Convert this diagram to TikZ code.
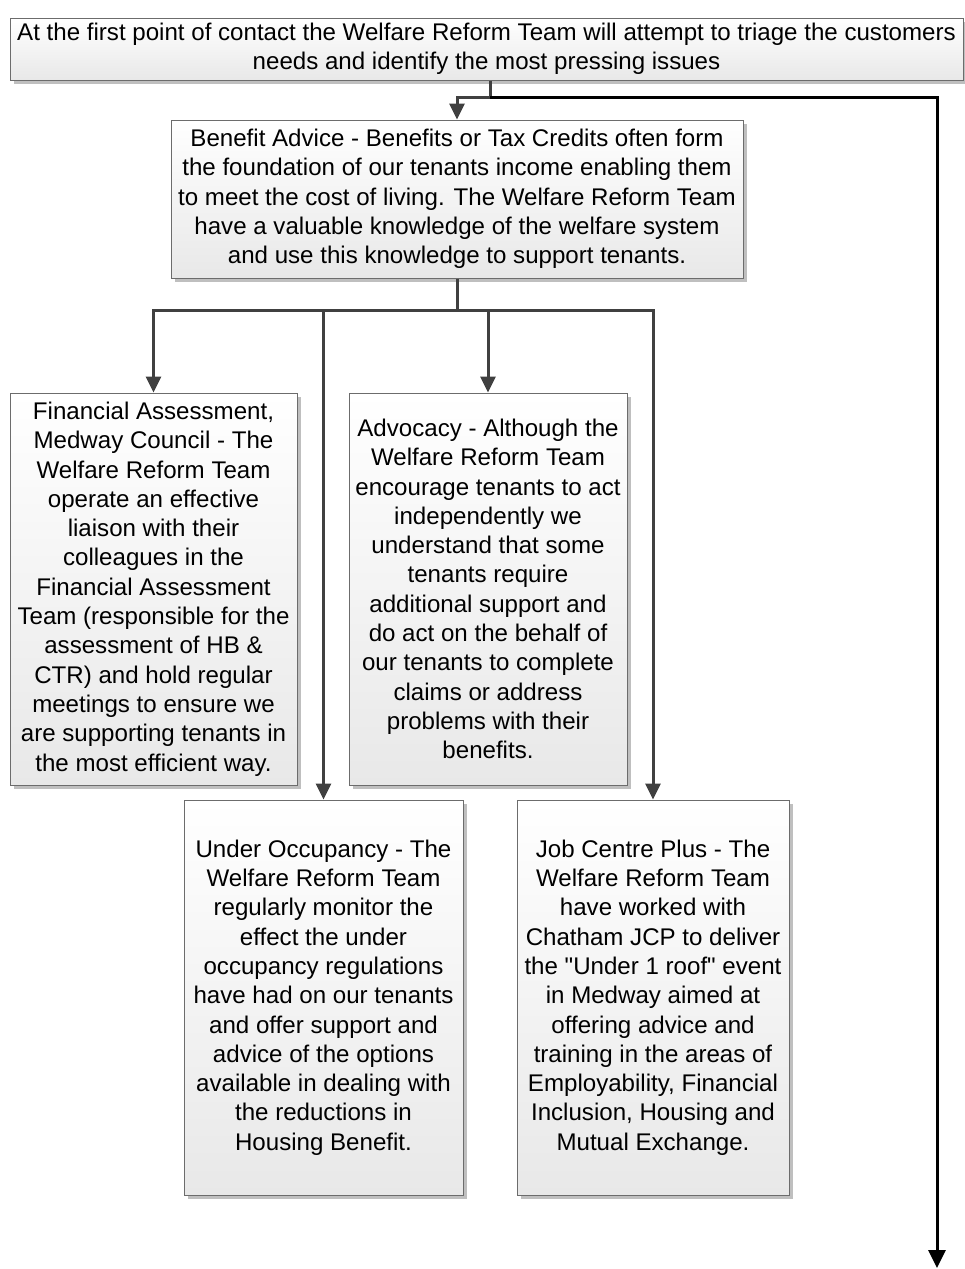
\documentclass[tikz,border=0pt]{standalone}
\usepackage{fontspec}
\setmainfont{Liberation Sans}[Ligatures=TeXOff]
\usetikzlibrary{shadows,arrows.meta}
\begin{document}
\begin{tikzpicture}[x=1pt,y=-1pt,
  box/.style={draw=gray!85!black,line width=1pt,top color=white,bottom color=gray!18,
    drop shadow={shadow xshift=4pt,shadow yshift=-4pt,fill=gray!50,opacity=1},
    align=center,font=\fontsize{24.1}{29.3}\selectfont,inner sep=0pt},
  arr/.style={draw=black!75,line width=3pt,-{Triangle[length=16pt,width=15pt]}},
  barr/.style={draw=black,line width=3pt,-{Triangle[length=18pt,width=17pt]}}]
\useasboundingbox (0,0) rectangle (965,1269);
\node[box,minimum width=953pt,minimum height=62pt] (top) at (486.5,49)
 {At the first point of contact the Welfare Reform Team will attempt to triage the customers\\needs and identify the most pressing issues};
\node[box,minimum width=572pt,minimum height=158pt] (ben) at (457,199)
 {Benefit Advice - Benefits or Tax Credits often form\\the foundation of our tenants income enabling them\\to meet the cost of living. The Welfare Reform Team\\have a valuable knowledge of the welfare system\\and use this knowledge to support tenants.};
\node[box,minimum width=287pt,minimum height=392pt] (fin) at (153.5,589)
 {Financial Assessment,\\Medway Council - The\\Welfare Reform Team\\operate an effective\\liaison with their\\colleagues in the\\Financial Assessment\\Team (responsible for the\\assessment of HB \&\\CTR) and hold regular\\meetings to ensure we\\are supporting tenants in\\the most efficient way.};
\node[box,minimum width=278pt,minimum height=392pt] (adv) at (488,589)
 {Advocacy - Although the\\Welfare Reform Team\\encourage tenants to act\\independently we\\understand that some\\tenants require\\additional support and\\do act on the behalf of\\our tenants to complete\\claims or address\\problems with their\\benefits.};
\node[box,minimum width=279pt,minimum height=395pt] (und) at (323.5,997.5)
 {Under Occupancy - The\\Welfare Reform Team\\regularly monitor the\\effect the under\\occupancy regulations\\have had on our tenants\\and offer support and\\advice of the options\\available in dealing with\\the reductions in\\Housing Benefit.};
\node[box,minimum width=272pt,minimum height=395pt] (job) at (653,997.5)
 {Job Centre Plus - The\\Welfare Reform Team\\have worked with\\Chatham JCP to deliver\\the "Under 1 roof" event\\in Medway aimed at\\offering advice and\\training in the areas of\\Employability, Financial\\Inclusion, Housing and\\Mutual Exchange.};
\coordinate (j1) at (490,97);
\coordinate (c1) at (937,97);
\coordinate (endp) at (937,1268);
\coordinate (j2) at (457,310);
\draw[line width=3pt,black!75] (top.south -| j1) -- (j1);
\draw[arr] (j1) -| (ben.north);
\draw[barr] (j1) -- (c1) -- (endp);
\draw[line width=3pt,black!75] (ben.south) -- (j2);
\draw[arr] (j2) -| (fin.north);
\draw[arr] (j2) -| (und.north);
\draw[arr] (j2) -| (adv.north);
\draw[arr] (j2) -| (job.north);
\end{tikzpicture}
\end{document}
